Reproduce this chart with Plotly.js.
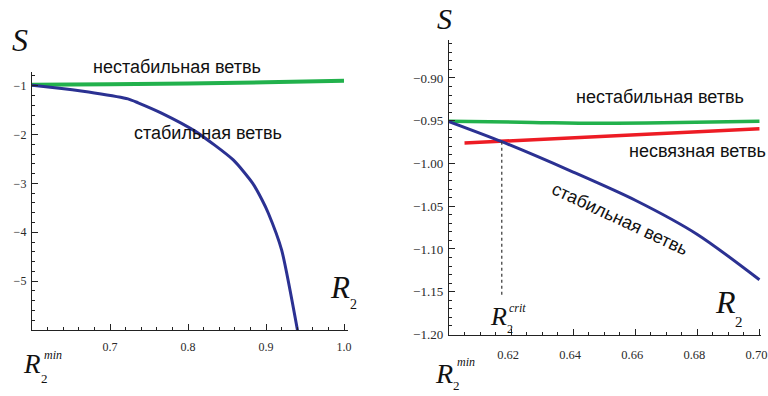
<!DOCTYPE html>
<html><head><meta charset="utf-8">
<script src="https://cdn.plot.ly/plotly-3.0.1.min.js"></script>
<style>html,body{margin:0;padding:0;background:#fff;overflow:hidden}#chart{width:768px;height:396px}</style>
</head><body><div id="chart"></div>
<script>
// ---- Left panel data ----
const leftR2Unstable = [0.6, 0.7, 0.8, 0.9, 1.0];
const leftSUnstable  = [-0.98, -0.97, -0.955, -0.93, -0.90];
const leftR2Stable = [0.6, 0.638, 0.68, 0.723, 0.736, 0.766, 0.809, 0.858, 0.883, 0.895, 0.903, 0.920, 0.941];
const leftSStable  = [-0.99, -1.06, -1.15, -1.27, -1.35, -1.56, -1.93, -2.52, -3.0, -3.34, -3.61, -4.36, -6.06];
const leftXTicks = [0.7, 0.8, 0.9, 1.0];
const leftXTickText = ["0.7", "0.8", "0.9", "1.0"];
const leftYTicks = [-1, -2, -3, -4, -5];
const leftYTickText = ["\u22121", "\u22122", "\u22123", "\u22124", "\u22125"];

// ---- Right panel data ----
const rightR2Unstable = [0.6, 0.627, 0.648, 0.669, 0.70];
const rightSUnstable  = [-0.9505, -0.952, -0.953, -0.9525, -0.9505];
const rightR2Disconnected = [0.605, 0.648, 0.70];
const rightSDisconnected  = [-0.976, -0.9685, -0.9595];
const rightR2Stable = [0.6, 0.617, 0.64, 0.66, 0.68, 0.70];
const rightSStable  = [-0.951, -0.9745, -1.010, -1.043, -1.083, -1.136];
const critR2 = [0.617, 0.617];
const critS  = [-0.9745, -1.157];
const rightXTicks = [0.62, 0.64, 0.66, 0.68, 0.70];
const rightXTickText = ["0.62", "0.64", "0.66", "0.68", "0.70"];
const rightYTicks = [-0.90, -0.95, -1.00, -1.05, -1.10, -1.15, -1.20];
const rightYTickText = ["\u22120.90", "\u22120.95", "\u22121.00", "\u22121.05", "\u22121.10", "\u22121.15", "\u22121.20"];

// ---- Labels ----
const labelUnstable = "нестабильная ветвь";
const labelStable = "стабильная ветвь";
const labelDisconnected = "несвязная ветвь";

const GREEN = "#22b14c", BLUE = "#2b3192", RED = "#ed1c24";

const traces = [
  {x: leftR2Unstable, y: leftSUnstable, xaxis: "x", yaxis: "y", mode: "lines", line: {color: GREEN, width: 4, shape: "spline"}},
  {x: leftR2Stable, y: leftSStable, xaxis: "x", yaxis: "y", mode: "lines", line: {color: BLUE, width: 3, shape: "spline", smoothing: 0.6}},
  {x: rightR2Unstable, y: rightSUnstable, xaxis: "x2", yaxis: "y2", mode: "lines", line: {color: GREEN, width: 3.5, shape: "spline"}},
  {x: rightR2Disconnected, y: rightSDisconnected, xaxis: "x2", yaxis: "y2", mode: "lines", line: {color: RED, width: 3.5}},
  {x: rightR2Stable, y: rightSStable, xaxis: "x2", yaxis: "y2", mode: "lines", line: {color: BLUE, width: 3, shape: "spline", smoothing: 0.8}},
  {x: critR2, y: critS, xaxis: "x2", yaxis: "y2", mode: "lines", line: {color: "#333", width: 1.2, dash: "dot"}}
];

const tickFont = {family: "Liberation Serif, Times New Roman, serif", size: 12, color: "#2a2a2a"};
const axBase = {showgrid: false, zeroline: false, showline: true, linecolor: "#222", linewidth: 1.2,
  ticks: "inside", ticklen: 6, tickwidth: 1, tickcolor: "#222", tickmode: "array", fixedrange: true,
  ticklabeloverflow: "allow"};

const layout = {
  width: 768, height: 396, margin: {l: 0, r: 0, t: 0, b: 0},
  paper_bgcolor: "#fff", plot_bgcolor: "#fff", showlegend: false,
  xaxis: Object.assign({}, axBase, {domain: [0.04167, 0.4531], range: [0.6, 1.0051], anchor: "y",
    tickvals: leftXTicks, ticktext: leftXTickText, tickfont: tickFont, ticklabelstandoff: 5,
    minor: {dtick: 0.02, tick0: 0.6, ticks: "inside", ticklen: 3, tickcolor: "#222", showgrid: false}}),
  yaxis: Object.assign({}, axBase, {domain: [0.16667, 0.81818], range: [-6, -0.72], anchor: "x",
    tickvals: leftYTicks, ticktext: leftYTickText, tickfont: tickFont, ticklabelstandoff: 2,
    minor: {dtick: 0.2, tick0: -6, ticks: "inside", ticklen: 3, tickcolor: "#222", showgrid: false}}),
  xaxis2: Object.assign({}, axBase, {domain: [0.58464, 0.99089], range: [0.6, 0.7005], anchor: "y2",
    tickvals: rightXTicks, ticktext: rightXTickText, tickfont: Object.assign({}, tickFont, {size: 12.5}),
    ticklabelstandoff: 8, ticklabelshift: -3,
    minor: {dtick: 0.005, tick0: 0.6, ticks: "inside", ticklen: 3, tickcolor: "#222", showgrid: false}}),
  yaxis2: Object.assign({}, axBase, {domain: [0.1553, 0.89899], range: [-1.2, -0.8556], anchor: "x2",
    tickvals: rightYTicks, ticktext: rightYTickText, tickfont: Object.assign({}, tickFont, {size: 13}), ticklabelstandoff: 2,
    minor: {dtick: 0.01, tick0: -1.2, ticks: "inside", ticklen: 3, tickcolor: "#222", showgrid: false}}),
  annotations: []
};

function px(x, y) { return {x: x / 768, y: 1 - y / 396}; }
const sansFont = {family: "Liberation Sans, Arial, sans-serif", size: 18, color: "#111"};
const mathFam = "Liberation Serif, Times New Roman, serif";
function ann(text, p, font, extra) {
  return Object.assign({text: text, xref: "paper", yref: "paper", x: p.x, y: p.y, xanchor: "center", yanchor: "middle",
    showarrow: false, font: font, borderpad: 0}, extra || {});
}
function mf(s) { return {family: mathFam, size: s, color: "#111"}; }
const A = layout.annotations;
A.push(ann(labelUnstable, px(177, 67), sansFont));
A.push(ann(labelStable, px(208, 133), sansFont));
A.push(ann(labelUnstable, px(660, 97), sansFont));
A.push(ann(labelDisconnected, px(697, 151), sansFont));
A.push(ann(labelStable, px(620, 219), sansFont, {textangle: 25}));
// math labels: S
A.push(ann("<i>S</i>", px(20, 40), mf(32)));
A.push(ann("<i>S</i>", px(444, 1), mf(30), {yanchor: "top"}));
// left R2
A.push(ann("<i>R</i>", px(340, 287), mf(31)));
A.push(ann("2", px(353.5, 304), mf(14)));
// left R2 min
A.push(ann("<i>R</i>", px(32, 364), mf(27)));
A.push(ann("2", px(44, 378), mf(13)));
A.push(ann("<i>min</i>", px(53, 355), mf(12)));
// right R2
A.push(ann("<i>R</i>", px(725, 302), mf(32)));
A.push(ann("2", px(739, 322), mf(15)));
// right R2 crit
A.push(ann("<i>R</i>", px(498, 316), mf(26)));
A.push(ann("2", px(509.5, 329), mf(12)));
A.push(ann("<i>crit</i>", px(517, 308), mf(12)));
// right R2 min
A.push(ann("<i>R</i>", px(444, 373), mf(28)));
A.push(ann("2", px(456, 385), mf(13)));
A.push(ann("<i>min</i>", px(466, 362), mf(12)));

Plotly.newPlot("chart", traces, layout, {staticPlot: true, displayModeBar: false});
</script></body></html>
